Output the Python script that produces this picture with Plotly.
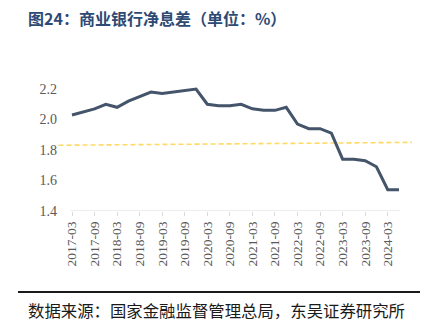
import plotly.graph_objects as go

# ---- data ----
quarters = [f"{y}-{m}" for y in range(2017, 2025) for m in ("03", "06", "09", "12")][:30]
nim = [2.03, 2.05, 2.07, 2.10, 2.08, 2.12, 2.15, 2.18,
       2.17, 2.18, 2.19, 2.20, 2.10, 2.09, 2.09, 2.10,
       2.07, 2.06, 2.06, 2.08, 1.97, 1.94, 1.94, 1.91,
       1.74, 1.74, 1.73, 1.69, 1.54, 1.54]
trend_x = [-1.2, 30.15]          # category-index positions of trendline ends
trend_y = [1.831, 1.850]
tick_labels = quarters[::2]
y_ticks = [1.4, 1.6, 1.8, 2.0, 2.2]

title_text = "<b>图24：商业银行净息差（单位：%）</b>"
source_text = "数据来源：国家金融监督管理总局，东吴证券研究所"

# ---- layout geometry (pixels) ----
W, H = 427, 328
L, R, T, B = 58, 11, 81, 117
PW, PH = W - L - R, H - T - B
px_per_idx = 11.276
x_left = -(72 - L) / px_per_idx
x_right = x_left + PW / px_per_idx

def px_x(p):
    return (p - L) / PW

def px_y(p):
    return (H - B - p) / PH

idx = list(range(len(quarters)))

fig = go.Figure()
fig.add_trace(go.Scatter(
    x=trend_x, y=trend_y, mode="lines",
    line=dict(color="#FFD966", width=1.6, dash="5px,3px"),
    hoverinfo="skip", showlegend=False))
fig.add_trace(go.Scatter(
    x=idx, y=nim, mode="lines",
    line=dict(color="#44546A", width=3),
    showlegend=False))

fig.update_layout(
    width=W, height=H,
    margin=dict(l=L, r=R, t=T, b=B, pad=0),
    plot_bgcolor="white", paper_bgcolor="white",
    xaxis=dict(
        range=[x_left, x_right],
        tickmode="array", tickvals=idx[::2], ticktext=tick_labels,
        tickangle=-90, ticks="outside", ticklen=4, tickcolor="#D9D9D9",
        showgrid=False, zeroline=False, showline=False,
        tickfont=dict(family="Liberation Serif", size=13.5, color="#595959"),
    ),
    yaxis=dict(
        range=[1.4, 1.4 + PH / 152.5],
        tickmode="array", tickvals=y_ticks, ticktext=[f"{v:.1f}" for v in y_ticks],
        showgrid=False, zeroline=False, showline=False, ticks="",
        tickfont=dict(family="Liberation Serif", size=14, color="#595959"),
    ),
    shapes=[
        dict(type="line", xref="x", yref="y", x0=-0.1, x1=idx[-1] + 0.1, y0=1.4, y1=1.4,
             line=dict(color="#D9D9D9", width=1.2)),
        dict(type="line", xref="paper", yref="paper", x0=px_x(18), x1=px_x(420),
             y0=px_y(292), y1=px_y(292), line=dict(color="#1A1A1A", width=2)),
    ],
    annotations=[
        dict(text=title_text, xref="paper", yref="paper", x=px_x(26), y=px_y(18),
             xanchor="left", yanchor="middle", showarrow=False,
             font=dict(family="Noto Sans CJK SC, Liberation Serif", size=16, color="#2E4A74")),
        dict(text=source_text, xref="paper", yref="paper", x=px_x(26), y=px_y(310),
             xanchor="left", yanchor="middle", showarrow=False,
             font=dict(family="Noto Sans CJK SC", size=16.4, color="#1A1A1A")),
    ],
)

fig.write_html("out.html")
